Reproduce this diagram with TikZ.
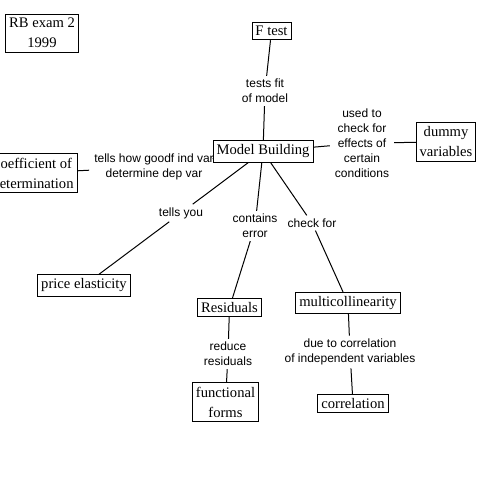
\documentclass[tikz,border=0pt]{standalone}
\usepackage{fontspec}
\setmainfont{Liberation Serif}
\setsansfont{Liberation Sans}
\usetikzlibrary{backgrounds}

\begin{document}
\begin{tikzpicture}[
        x=1pt, y=-1pt,
        concept/.style={draw=black, line width=0.8pt, fill=white, align=center, inner xsep=3.5pt, inner ysep=4pt, font=\fontsize{14.6}{20}\selectfont},
        linkword/.style={align=center, inner xsep=5pt, inner ysep=3pt, font=\sffamily\fontsize{12}{15}\selectfont},
        link/.style={line width=1pt, black}
      ]
        \useasboundingbox (0,0) rectangle (500,500);
        % linking phrases
        \node[linkword] (fit) at (265,91) {tests fit\\of model};
        \node[linkword] (used) at (362,143) {used to\\check for\\effects of\\certain\\conditions};
        \node[linkword] (good) at (154,167) {tells how goodf ind var\\determine dep var};
        \node[linkword] (tells) at (181,213) {tells you};
        \node[linkword] (contains) at (255,226) {contains\\error};
        \node[linkword] (check) at (312,223) {check for};
        \node[linkword] (reduce) at (228,354) {reduce\\residuals};
        \node[linkword] (due) at (350,352) {due to correlation\\of independent variables};
        % concepts
        \node[concept] (rb) at (42,33) {RB exam 2\\1999};
        \node[concept] (ftest) at (271.5,31) {F test};
        \node[concept] (mb) at (263,151.5) {Model Building};
        \node[concept] (dummy) at (446,142) {dummy\\variables};
        \node[concept] (coef) at (33,173) {coefficient of\\determination};
        \node[concept] (price) at (84,285.5) {price elasticity};
        \node[concept] (resid) at (229.5,307.5) {Residuals};
        \node[concept] (multi) at (348,303) {multicollinearity};
        \node[concept] (forms) at (225.5,402) {functional\\forms};
        \node[concept] (corr) at (353,403.5) {correlation};
        % connectors
        \begin{scope}[on background layer]
          \draw[link] (ftest) -- (fit);
          \draw[link] (fit) -- (mb);
          \draw[link] (mb) -- (used);
          \draw[link] (used) -- (dummy);
          \draw[link] (coef) -- (good);
          \draw[link] (good) -- (mb);
          \draw[link] (mb) -- (tells);
          \draw[link] (tells) -- (price);
          \draw[link] (mb) -- (contains);
          \draw[link] (contains) -- (resid);
          \draw[link] (mb) -- (check);
          \draw[link] (check) -- (multi);
          \draw[link] (resid) -- (reduce);
          \draw[link] (reduce) -- (forms);
          \draw[link] (multi) -- (due);
          \draw[link] (due) -- (corr);
        \end{scope}
      \end{tikzpicture}
\end{document}
